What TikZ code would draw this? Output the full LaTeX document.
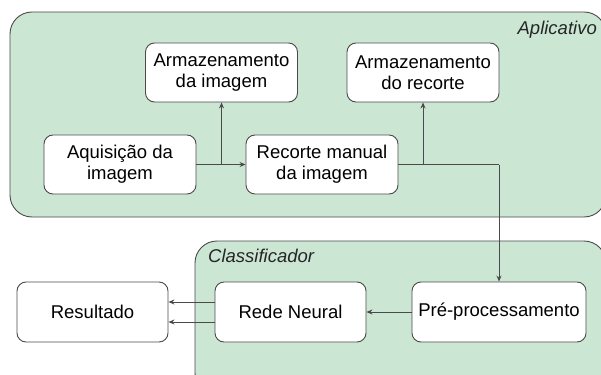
\documentclass[tikz,border=0pt]{standalone}
\usepackage{fontspec}
\setmainfont{Liberation Sans}
\usetikzlibrary{arrows.meta}
\definecolor{panelgreen}{HTML}{CCE6D4}
\definecolor{edgegray}{HTML}{4A4A4A}
\tikzset{
  panel/.style={draw=edgegray, fill=panelgreen, line width=0.9pt, rounded corners=22pt},
  box/.style={draw=edgegray, fill=white, line width=0.9pt, rounded corners=9pt,
    align=center, inner sep=0pt, font=\fontsize{18.5}{21}\selectfont},
  link/.style={draw=edgegray, line width=0.9pt, -{Stealth[length=6pt,width=5pt]}},
  plain/.style={draw=edgegray, line width=0.9pt},
  panellabel/.style={font=\fontsize{18.5}{21}\selectfont\itshape, text=black!85, inner sep=0pt}
}
\begin{document}
\begin{tikzpicture}[x=1pt,y=-1pt]
\useasboundingbox (0,0) rectangle (601,374);
\clip (0,0) rectangle (601,374);
% containers
\draw[panel] (10,12) rectangle (606,217);
\draw[panel] (195,241) rectangle (606,395);
\node[panellabel, anchor=east] (lapp) at (597,30) {Aplicativo};
\node[panellabel, anchor=west] (lcls) at (208,256) {Classificador};
% boxes
\node[box, minimum width=152pt, minimum height=59pt] (armimg) at (221.5,72.5) {Armazenamento\\da imagem};
\node[box, minimum width=152pt, minimum height=59pt] (armrec) at (423,72.5) {Armazenamento\\do recorte};
\node[box, minimum width=152pt, minimum height=59pt] (aqu) at (120,164.5) {Aquisição da\\imagem};
\node[box, minimum width=152pt, minimum height=59pt] (rec) at (322,164.5) {Recorte manual\\da imagem};
\node[box, minimum width=151pt, minimum height=60pt] (res) at (92.5,312) {Resultado};
\node[box, minimum width=151pt, minimum height=60pt] (rede) at (290.5,312) {Rede Neural};
\node[box, minimum width=174pt, minimum height=60pt] (pre) at (499,312) {Pré-processamento};
% junction points
\coordinate (j1) at (armimg.south |- aqu.east);
\coordinate (j2) at (armrec.south |- rec.east);
\coordinate (j3) at (pre.north |- rec.east);
% connectors
\draw[link] (aqu.east) -- (rec.west);
\draw[link] (j1) -- (armimg.south);
\draw[plain] (rec.east) -- (j3);
\draw[link] (j2) -- (armrec.south);
\draw[link] (j3) -- (pre.north);
\draw[link] (pre.west) -- (rede.east);
\draw[link] ([yshift=-10pt]rede.west) -- ([yshift=-10pt]res.east);
\draw[link] ([yshift=10pt]rede.west) -- ([yshift=10pt]res.east);
\end{tikzpicture}
\end{document}
